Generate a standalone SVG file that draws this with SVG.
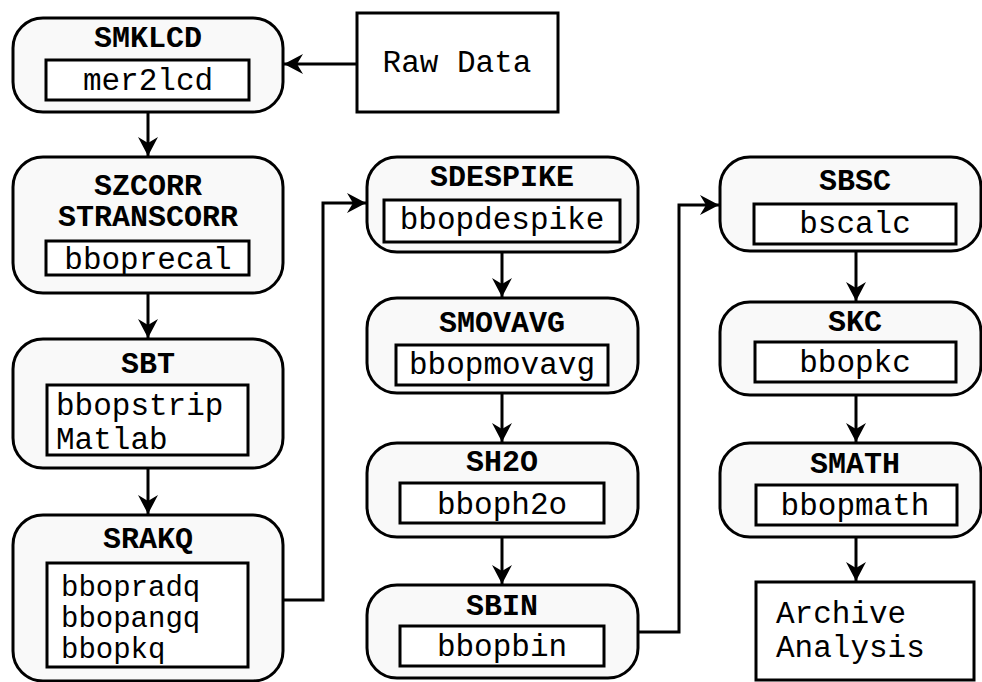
<svg xmlns="http://www.w3.org/2000/svg" width="982" height="682" viewBox="0 0 982 682">
<style>
.node{fill:#f9f9f9;stroke:#000;stroke-width:3}
.box{fill:#fff;stroke:#000;stroke-width:3}
.t{font-family:"Liberation Mono","DejaVu Sans Mono",monospace;font-size:31px;fill:#000}
.s{font-size:29px}
.b{font-family:"Liberation Mono","DejaVu Sans Mono",monospace;font-size:30px;font-weight:bold;fill:#000}
.c{text-anchor:middle}
.e{fill:none;stroke:#000;stroke-width:3}
</style>
<defs>
<marker id="ah" markerUnits="userSpaceOnUse" markerWidth="22" markerHeight="22" viewBox="-20 -11 22 22" refX="0" refY="0" orient="auto">
<path d="M0,0 L-19,-10 L-13,0 L-19,10 Z" fill="#000"/>
</marker>
</defs>
<rect width="982" height="682" fill="#fff"/>
<g id="connectors">
<path class="e" d="M357,64 H284" marker-end="url(#ah)"/>
<path class="e" d="M148,112 V156" marker-end="url(#ah)"/>
<path class="e" d="M148,293 V338" marker-end="url(#ah)"/>
<path class="e" d="M148,468 V514" marker-end="url(#ah)"/>
<path class="e" d="M283,600 H323 V203 H366" marker-end="url(#ah)"/>
<path class="e" d="M502,252 V297" marker-end="url(#ah)"/>
<path class="e" d="M502,393 V442" marker-end="url(#ah)"/>
<path class="e" d="M502,537 V584" marker-end="url(#ah)"/>
<path class="e" d="M638,632 H679 V205 H719" marker-end="url(#ah)"/>
<path class="e" d="M856,251 V301" marker-end="url(#ah)"/>
<path class="e" d="M856,395 V442" marker-end="url(#ah)"/>
<path class="e" d="M856,537 V581" marker-end="url(#ah)"/>
</g>
<g id="smklcd">
<rect class="node" x="13" y="18" width="270" height="94" rx="30"/>
<text class="b c" x="148" y="47">SMKLCD</text>
<rect class="box" x="46" y="60" width="203" height="40"/>
<text class="t c" x="148" y="90">mer2lcd</text>
</g>
<g id="rawdata">
<rect class="box" x="357" y="13" width="201" height="99"/>
<text class="t c" x="457" y="72">Raw Data</text>
</g>
<g id="szcorr">
<rect class="node" x="13" y="157" width="270" height="136" rx="30"/>
<text class="b c" x="148" y="195">SZCORR</text>
<text class="b c" x="148" y="226">STRANSCORR</text>
<rect class="box" x="46" y="241" width="203" height="34"/>
<text class="t c" x="148" y="269">bboprecal</text>
</g>
<g id="sbt">
<rect class="node" x="13" y="339" width="270" height="129" rx="30"/>
<text class="b c" x="148" y="373">SBT</text>
<rect class="box" x="47" y="385" width="201" height="70"/>
<text class="t" x="56" y="415">bbopstrip</text>
<text class="t" x="56" y="449">Matlab</text>
</g>
<g id="srakq">
<rect class="node" x="13" y="515" width="270" height="166" rx="30"/>
<text class="b c" x="148" y="548">SRAKQ</text>
<rect class="box" x="47" y="563" width="201" height="104"/>
<text class="t s" x="61" y="596">bbopradq</text>
<text class="t s" x="61" y="627">bbopangq</text>
<text class="t s" x="61" y="658">bbopkq</text>
</g>
<g id="sdespike">
<rect class="node" x="367" y="157" width="271" height="95" rx="30"/>
<text class="b c" x="502" y="186">SDESPIKE</text>
<rect class="box" x="384" y="200" width="236" height="42"/>
<text class="t c" x="502" y="229">bbopdespike</text>
</g>
<g id="smovavg">
<rect class="node" x="367" y="298" width="271" height="95" rx="30"/>
<text class="b c" x="502" y="332">SMOVAVG</text>
<rect class="box" x="396" y="345" width="212" height="40"/>
<text class="t c" x="502" y="374">bbopmovavg</text>
</g>
<g id="sh2o">
<rect class="node" x="367" y="443" width="271" height="94" rx="30"/>
<text class="b c" x="502" y="471">SH2O</text>
<rect class="box" x="400" y="483" width="204" height="40"/>
<text class="t c" x="502" y="514">bboph2o</text>
</g>
<g id="sbin">
<rect class="node" x="367" y="585" width="271" height="93" rx="30"/>
<text class="b c" x="502" y="615">SBIN</text>
<rect class="box" x="400" y="626" width="204" height="40"/>
<text class="t c" x="502" y="656">bbopbin</text>
</g>
<g id="sbsc">
<rect class="node" x="720" y="157" width="261" height="94" rx="30"/>
<text class="b c" x="855" y="190">SBSC</text>
<rect class="box" x="754" y="204" width="202" height="40"/>
<text class="t c" x="855" y="233">bscalc</text>
</g>
<g id="skc">
<rect class="node" x="720" y="302" width="261" height="93" rx="30"/>
<text class="b c" x="855" y="331">SKC</text>
<rect class="box" x="755" y="342" width="201" height="40"/>
<text class="t c" x="855" y="372">bbopkc</text>
</g>
<g id="smath">
<rect class="node" x="720" y="443" width="261" height="94" rx="30"/>
<text class="b c" x="855" y="473">SMATH</text>
<rect class="box" x="756" y="485" width="201" height="40"/>
<text class="t c" x="855" y="515">bbopmath</text>
</g>
<g id="archive">
<rect class="box" x="756" y="582" width="218" height="98"/>
<text class="t" x="776" y="623">Archive</text>
<text class="t" x="776" y="657">Analysis</text>
</g>
</svg>
